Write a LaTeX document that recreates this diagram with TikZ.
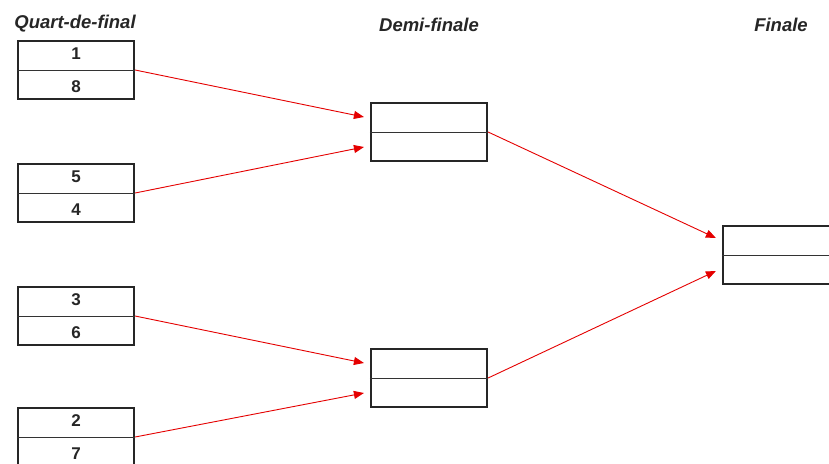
\documentclass[tikz,border=0pt]{standalone}
\usepackage{fontspec}
\setmainfont{Liberation Sans}
\usetikzlibrary{arrows.meta,calc}
\begin{document}
\begin{tikzpicture}[x=1pt,y=-1pt,
  matchbox/.style={draw=black!85,line width=2.2pt,minimum width=116pt,minimum height=58pt,inner sep=0pt},
  num/.style={font=\bfseries\fontsize{17}{17}\selectfont,text=black!85,inner sep=0pt},
  round/.style={font=\bfseries\itshape\fontsize{18.5}{19}\selectfont,text=black!85,inner sep=0pt},
  link/.style={draw=red!90!black,line width=0.9pt,-{Triangle[length=10pt,width=8pt]}}]
\clip (0,0) rectangle (829,463);
\fill[white] (0,0) rectangle (829,463);
% titles
\node[round] (tq) at (75,24) {Quart-de-final};
\node[round] (td) at (429,25) {Demi-finale};
\node[round] (tf) at (781,25) {Finale};
% quarter boxes
\foreach \n/\y/\a/\b in {q1/70/1/8, q2/193/5/4, q3/316/3/6, q4/437/2/7}{
  \node[matchbox] (\n) at (76,\y) {};
  \draw[line width=1pt,black!80] (\n.west) -- (\n.east);
  \node[num] (\n a) at ($(\n.center)+(0,-16)$) {\a};
  \node[num] (\n b) at ($(\n.center)+(0,17)$) {\b};
}
% semi boxes
\foreach \n/\y in {s1/132, s2/378}{
  \node[matchbox] (\n) at (429,\y) {};
  \draw[line width=1pt,black!80] (\n.west) -- (\n.east);
  \coordinate (\n t) at ($(\n.west)+(-6,-15)$);
  \coordinate (\n b) at ($(\n.west)+(-6,15)$);
}
% final box
\node[matchbox] (f) at (781,255) {};
\draw[line width=1pt,black!80] (f.west) -- (f.east);
\coordinate (ft) at ($(f.west)+(-6,-17)$);
\coordinate (fb) at ($(f.west)+(-6,16)$);
% links
\draw[link] (q1.east) -- (s1t);
\draw[link] (q2.east) -- (s1b);
\draw[link] (q3.east) -- (s2t);
\draw[link] (q4.east) -- (s2b);
\draw[link] (s1.east) -- (ft);
\draw[link] (s2.east) -- (fb);
\end{tikzpicture}
\end{document}
